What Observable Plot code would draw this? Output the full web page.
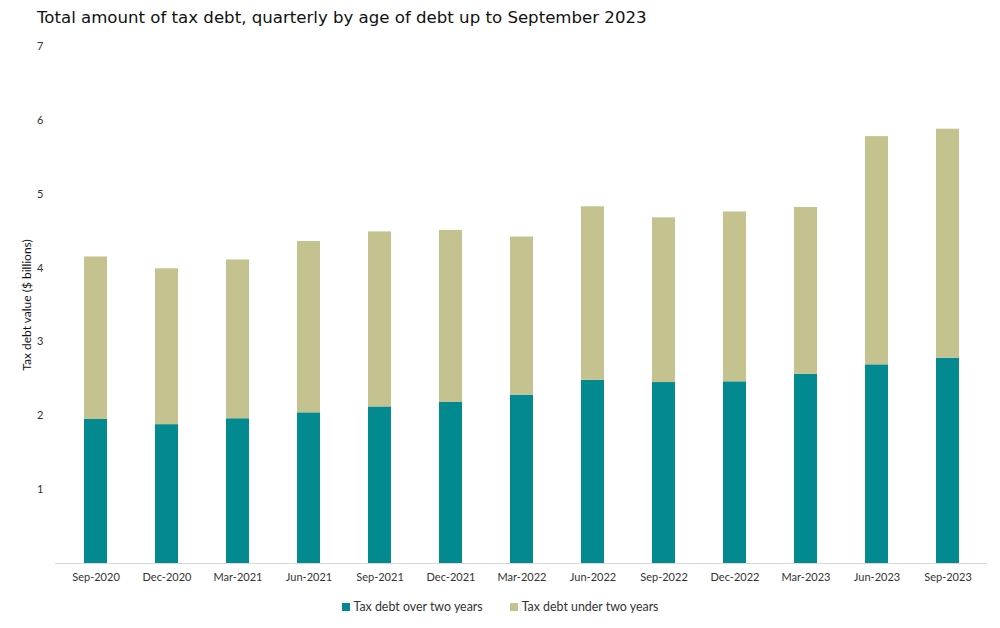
<!DOCTYPE html>
<html>
<head>
<meta charset="utf-8">
<script src="https://cdn.jsdelivr.net/npm/d3@7"></script>
<script src="https://cdn.jsdelivr.net/npm/@observablehq/plot@0.6"></script>
<style>
  html, body { margin: 0; padding: 0; background: #fff; }
  #wrap { width: 1000px; height: 628px; position: relative; font-family: "DejaVu Sans", Verdana, sans-serif; }
  #title { position: absolute; left: 37px; top: 8px; font-size: 16.6px; color: #111; font-family: "DejaVu Sans", Verdana, sans-serif; }
  #chart { position: absolute; left: 0; top: 40px; }
  #legend { position: absolute; top: 599px; left: 0; width: 1000px; display: flex; justify-content: center; gap: 27px; font-family: Lato, "Open Sans", sans-serif; font-size: 12.4px; color: #333; }
  .item { display: flex; align-items: center; gap: 4px; }
  .sw { width: 8px; height: 8px; display: inline-block; }
</style>
</head>
<body>
<div id="wrap">
  <div id="title">Total amount of tax debt, quarterly by age of debt up to September 2023</div>
  <div id="chart"></div>
  <div id="legend"></div>
</div>
<script>
const categories = ["Sep-2020","Dec-2020","Mar-2021","Jun-2021","Sep-2021","Dec-2021","Mar-2022","Jun-2022","Sep-2022","Dec-2022","Mar-2023","Jun-2023","Sep-2023"];
const overTwoYears  = [1.95, 1.88, 1.96, 2.04, 2.12, 2.18, 2.28, 2.48, 2.45, 2.46, 2.56, 2.69, 2.78];
const underTwoYears = [2.20, 2.11, 2.15, 2.32, 2.37, 2.33, 2.14, 2.35, 2.23, 2.30, 2.26, 3.09, 3.10];
const seriesNames = ["Tax debt over two years", "Tax debt under two years"];
const seriesColors = ["#038a90", "#c4c28f"];
const yTicks = [1, 2, 3, 4, 5, 6, 7];
const yLabel = "Tax debt value ($ billions)";

const data = [];
categories.forEach((c, i) => {
  data.push({period: c, series: seriesNames[0], value: overTwoYears[i]});
  data.push({period: c, series: seriesNames[1], value: underTwoYears[i]});
});

const chart = Plot.plot({
  width: 1000,
  height: 550,
  marginTop: 6,
  marginBottom: 27,
  marginLeft: 55,
  marginRight: 13,
  style: {fontFamily: "Lato, 'Open Sans', sans-serif", fontSize: "11px", color: "#333", background: "#fff"},
  x: {domain: categories, paddingInner: 0.68, paddingOuter: 0.34, label: null, tickSize: 0, tickPadding: 10},
  y: {domain: [0, 7], ticks: yTicks, tickFormat: d3.format("d"), label: null, tickSize: 0, tickPadding: 12},
  color: {domain: seriesNames, range: seriesColors},
  marks: [
    Plot.barY(data, Plot.stackY({x: "period", y: "value", fill: "series", order: seriesNames})),
    Plot.ruleY([0], {stroke: "#d9d9d9", strokeWidth: 1}),
    Plot.text([yLabel], {text: d => d, frameAnchor: "left", textAnchor: "middle", rotate: -90, dx: -28, fontSize: 12, fill: "#111"})
  ]
});
document.getElementById("chart").appendChild(chart);

const legend = document.getElementById("legend");
seriesNames.forEach((n, i) => {
  const it = document.createElement("div");
  it.className = "item";
  const sw = document.createElement("span");
  sw.className = "sw";
  sw.style.background = seriesColors[i];
  const t = document.createElement("span");
  t.textContent = n;
  it.appendChild(sw);
  it.appendChild(t);
  legend.appendChild(it);
});
</script>
</body>
</html>
